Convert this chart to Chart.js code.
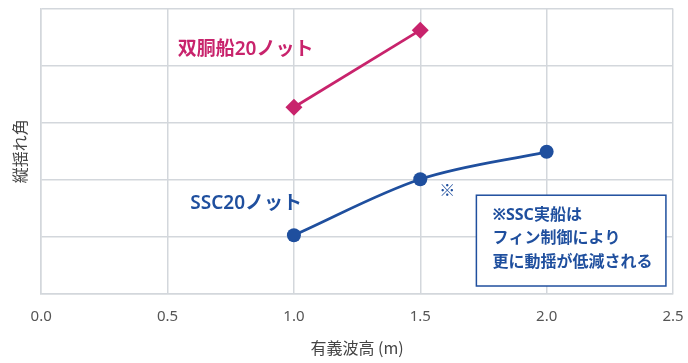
<!DOCTYPE html>
<html>
<head>
<meta charset="utf-8">
<script src="https://cdn.jsdelivr.net/npm/chart.js@4"></script>
<style>
  body { margin: 0; background: #fff; }
  #wrap { width: 688px; height: 363px; }
</style>
</head>
<body>
<div id="wrap"><canvas id="myChart"></canvas></div>
<script>
const waveHeight = [1.0, 1.5, 2.0];
const catamaran = [3.27, 4.62, null];
const ssc = [1.03, 2.01, 2.49];
const xTicks = [0, 0.5, 1.0, 1.5, 2.0, 2.5];

const FONT = "'Noto Sans CJK JP', 'Noto Sans', sans-serif";
const LFONT = "'Noto Sans', 'Noto Sans CJK JP', sans-serif";
const PINK = "#c8236c";
const BLUE = "#1f4f9e";

const labelPlugin = {
  id: "labels",
  afterDatasetsDraw(chart) {
    const { ctx, scales } = chart;
    const px = (v) => scales.x.getPixelForValue(v);
    const py = (v) => scales.y.getPixelForValue(v);
    ctx.save();
    ctx.textBaseline = "middle";
    ctx.textAlign = "left";
    ctx.font = "600 19px " + LFONT;
    ctx.fillStyle = PINK;
    ctx.fillText("双胴船20ノット", px(0.54), py(4.28));
    ctx.fillStyle = BLUE;
    ctx.fillText("SSC20ノット", px(0.59), py(1.59));
    ctx.font = "16px " + FONT;
    ctx.textAlign = "center";
    ctx.fillText("※", px(1.607), py(1.82));

    // note box
    const x1 = px(1.722), x2 = px(2.472), y1 = py(1.73), y2 = py(0.14);
    ctx.fillStyle = "#fff";
    ctx.fillRect(x1, y1, x2 - x1, y2 - y1);
    ctx.strokeStyle = BLUE;
    ctx.lineWidth = 1.5;
    ctx.strokeRect(x1, y1, x2 - x1, y2 - y1);
    ctx.fillStyle = BLUE;
    ctx.textAlign = "left";
    ctx.font = "bold 16px " + LFONT;
    const lines = ["※SSC実船は", "フィン制御により", "更に動揺が低減される"];
    lines.forEach((t, i) => ctx.fillText(t, x1 + 16, y1 + 20 + i * 23.5));
    ctx.restore();
  },
};

const ctx1 = document.getElementById("myChart");
new Chart(ctx1, {
  type: "line",
  data: {
    labels: waveHeight,
    datasets: [
      {
        label: "双胴船20ノット",
        data: waveHeight.map((x, i) => ({ x: x, y: catamaran[i] })),
        borderColor: PINK,
        backgroundColor: PINK,
        borderWidth: 2.75,
        pointStyle: "rectRot",
        pointRadius: 8.5,
        pointBorderWidth: 0,
        pointHoverRadius: 8.5,
        tension: 0,
      },
      {
        label: "SSC20ノット",
        data: waveHeight.map((x, i) => ({ x: x, y: ssc[i] })),
        borderColor: BLUE,
        backgroundColor: BLUE,
        borderWidth: 2.75,
        pointStyle: "circle",
        pointRadius: 7,
        pointBorderWidth: 0,
        pointHoverRadius: 7,
        cubicInterpolationMode: "monotone",
      },
    ],
  },
  options: {
    responsive: true,
    maintainAspectRatio: false,
    animation: false,
    layout: { padding: { top: 7, right: 0, left: 8, bottom: 5 } },
    plugins: {
      legend: { display: false },
      tooltip: { enabled: false },
    },
    scales: {
      x: {
        type: "linear",
        min: 0,
        max: 2.5,
        afterBuildTicks: (axis) => { axis.ticks = xTicks.map((v) => ({ value: v })); },
        afterFit: (axis) => {
          axis.height = 64;
          axis.paddingLeft = 0;
          axis.paddingRight = 15;
        },
        ticks: {
          color: "#555",
          font: { family: LFONT, size: 15 },
          padding: 14,
          callback: (v) => Number(v).toFixed(1),
        },
        grid: { color: "#d3d7dc", lineWidth: 1.5, drawTicks: false },
        border: { color: "#d3d7dc", width: 1.5 },
        title: {
          display: true,
          text: "有義波高 (m)",
          color: "#444",
          font: { family: FONT, size: 16 },
          padding: { top: 0, bottom: 0 },
        },
      },
      y: {
        min: 0,
        max: 5,
        ticks: { display: false, stepSize: 1 },
        grid: { color: "#d3d7dc", lineWidth: 1.5, drawTicks: false },
        border: { color: "#d3d7dc", width: 1.5 },
        title: {
          display: true,
          text: "縦揺れ角",
          color: "#444",
          font: { family: FONT, size: 16 },
          padding: { top: 2, bottom: 12 },
        },
      },
    },
  },
  plugins: [labelPlugin],
});
</script>
</body>
</html>
